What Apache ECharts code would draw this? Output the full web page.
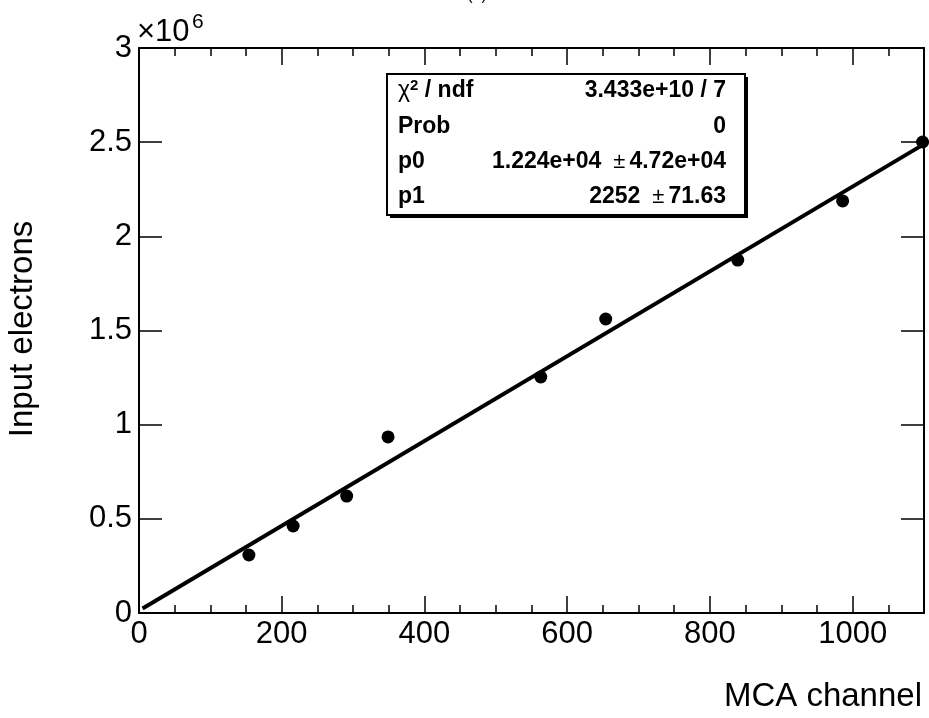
<!DOCTYPE html>
<html><head><meta charset="utf-8">
<script src="https://cdn.jsdelivr.net/npm/echarts@6/dist/echarts.min.js"></script>
<style>html,body{margin:0;padding:0;background:#fff}#c{width:929px;height:718px}</style>
</head><body><div id="c"></div>
<script>
// ---- data ----
const mcaChannel     = [154, 216, 291, 349, 563, 654, 839, 986, 1098];
const inputElectrons = [0.308e6, 0.462e6, 0.621e6, 0.935e6, 1.253e6, 1.561e6, 1.874e6, 2.188e6, 2.501e6];
// linear fit  y = p0 + p1 * x
const fitP0 = 1.224e4;
const fitP1 = 2252;
const fitRange = [5, 1100];
// axes
const xRange = [0, 1100], xMajorStep = 200, xMinorStep = 50;
const yRange = [0, 3e6],  yMajorStep = 0.5e6, yExponent = 6;
// stats box
const statLabels = ['χ2 / ndf', 'Prob', 'p0', 'p1'];
const statValues = ['3.433e+10 / 7', '0', '1.224e+04', '2252'];
const statErrors = [null, null, '4.72e+04', '71.63'];
const titleText = '(a)';
const xTitle = 'MCA channel';
const yTitle = 'Input electrons';

const FONT = "'Liberation Sans', Arial, Helvetica, sans-serif";
const fitLine = fitRange.map(x => [x, fitP0 + fitP1 * x]);
const points = mcaChannel.map((x, i) => [x, inputElectrons[i]]);

function xAx(pos, step, len, labels, line) {
  return {
    type: 'value', position: pos, min: xRange[0], max: xRange[1], interval: step,
    splitLine: { show: false },
    axisLine: { show: line, onZero: false, lineStyle: { color: '#000', width: 2 } },
    axisTick: { show: true, inside: true, length: len, lineStyle: { color: '#000', width: 1.5 } },
    axisLabel: labels ? { show: true, color: '#000', fontSize: 31, fontFamily: FONT, margin: 6, showMaxLabel: false,
      formatter: v => (v % xMajorStep === 0 ? String(v) : '') } : { show: false }
  };
}
function yAx(pos, labels) {
  return {
    type: 'value', position: pos, min: yRange[0], max: yRange[1], interval: yMajorStep,
    splitLine: { show: false },
    axisLine: { show: true, onZero: false, lineStyle: { color: '#000', width: 2 } },
    axisTick: { show: true, inside: true, length: 23, lineStyle: { color: '#000', width: 1.5 } },
    axisLabel: labels ? { show: true, color: '#000', fontSize: 31, fontFamily: FONT, margin: 7,
      formatter: v => String(+(v / Math.pow(10, yExponent)).toFixed(2)) } : { show: false }
  };
}

const BOX = { x: 387, y: 74, w: 358, h: 141 };
const rowY = [91, 127, 162, 197];
const statText = [];
statLabels.forEach((lab, i) => {
  let t;
  if (lab.indexOf('χ2') === 0) t = '{g|χ}{s|2}{b|' + lab.slice(2) + '}';
  else t = '{b|' + lab + '}';
  statText.push({ type: 'text', x: 398, y: rowY[i], z: 102,
    style: { text: t, verticalAlign: 'middle', align: 'left', fontFamily: FONT,
      rich: { b: { fontSize: 23, fontWeight: 'bold', fontFamily: FONT, lineHeight: 26 },
              g: { fontSize: 23, fontFamily: FONT, lineHeight: 26 },
              s: { fontSize: 15, fontWeight: 'bold', fontFamily: FONT, verticalAlign: 'top', lineHeight: 15 } } } });
  const v = statErrors[i] ? '{b|' + statValues[i] + '}{pm|±}{b|' + statErrors[i] + '}' : '{b|' + statValues[i] + '}';
  statText.push({ type: 'text', x: 726, y: rowY[i], z: 102,
    style: { text: v, verticalAlign: 'middle', align: 'right', fontFamily: FONT,
      rich: { b: { fontSize: 23, fontWeight: 'bold', fontFamily: FONT, lineHeight: 26 },
              pm: { fontSize: 22, fontFamily: FONT, lineHeight: 26, padding: [0, 4, 0, 12] } } } });
});

const option = {
  animation: false,
  backgroundColor: '#fff',
  grid: { left: 139, right: 5, top: 48, bottom: 105, containLabel: false },
  xAxis: [
    xAx('bottom', xMajorStep, 17, true, true),
    xAx('bottom', xMinorStep, 8, false, false),
    xAx('top', xMajorStep, 17, false, true),
    xAx('top', xMinorStep, 8, false, false)
  ],
  yAxis: [yAx('left', true), yAx('right', false)],
  series: [
    { type: 'line', data: fitLine, xAxisIndex: 0, yAxisIndex: 0, symbol: 'none', clip: false,
      lineStyle: { color: '#000', width: 4 }, z: 3 },
    { type: 'scatter', data: points, xAxisIndex: 0, yAxisIndex: 0, symbol: 'circle', symbolSize: 13,
      clip: false, itemStyle: { color: '#000', opacity: 1 }, z: 4 }
  ],
  graphic: [
    { type: 'text', x: 477, y: 4, z: 100, style: { text: titleText, fontSize: 16, fontFamily: FONT, fill: '#000', align: 'center', verticalAlign: 'bottom' } },
    { type: 'text', x: 137, y: 32, z: 100, style: { text: '×10', fontSize: 31, fontFamily: FONT, fill: '#000', align: 'left', verticalAlign: 'middle' } },
    { type: 'text', x: 192, y: 22, z: 100, style: { text: String(yExponent), fontSize: 21, fontFamily: FONT, fill: '#000', align: 'left', verticalAlign: 'middle' } },
    { type: 'text', x: 23, y: 329, rotation: Math.PI / 2, z: 100, style: { text: yTitle, fontSize: 33, fontFamily: FONT, fill: '#000', align: 'center', verticalAlign: 'middle' } },
    { type: 'text', x: 922, y: 697, z: 100, style: { text: xTitle, fontSize: 33, fontFamily: FONT, fill: '#000', align: 'right', verticalAlign: 'middle' } },
    { type: 'rect', z: 100, shape: { x: BOX.x + 3, y: BOX.y + 3, width: BOX.w, height: BOX.h }, style: { fill: '#000' } },
    { type: 'rect', z: 101, shape: { x: BOX.x, y: BOX.y, width: BOX.w, height: BOX.h }, style: { fill: '#fff', stroke: '#000', lineWidth: 2 } }
  ].concat(statText)
};
const chart = echarts.init(document.getElementById('c'), null, { renderer: 'canvas' });
chart.setOption(option);
</script>
</body></html>
